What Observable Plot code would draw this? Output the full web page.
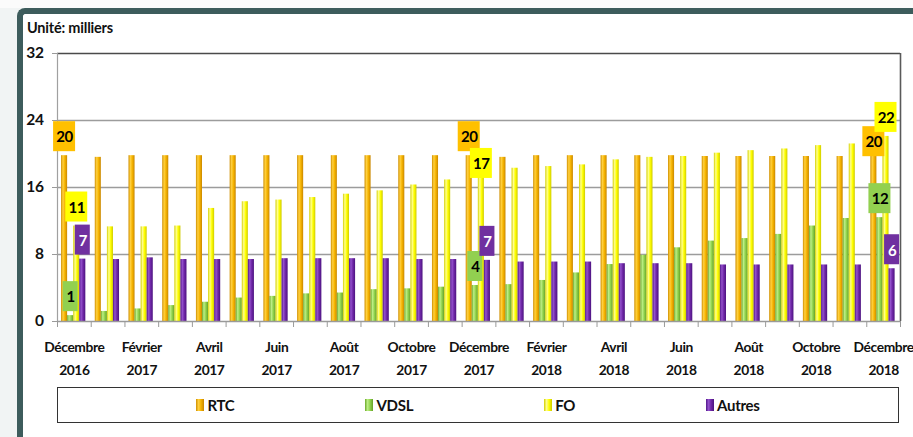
<!DOCTYPE html>
<html>
<head>
<meta charset="utf-8">
<script src="https://cdn.jsdelivr.net/npm/d3@7"></script>
<script src="https://cdn.jsdelivr.net/npm/@observablehq/plot@0.6"></script>
<style>
  html, body { margin: 0; padding: 0; }
  body {
    width: 913px; height: 437px; overflow: hidden; position: relative;
    background: linear-gradient(to bottom, #fbfbfb 0px, #fbfbfb 8px, #f1f4f4 8px);
    font-family: "Lato", "Roboto", sans-serif;
  }
  #frame {
    position: absolute; left: 17px; top: 8px; right: -30px; bottom: -30px;
    background: #ffffff;
    border-left: 6px solid #3d5c5c; border-top: 6px solid #3d5c5c;
    border-top-left-radius: 8px;
  }
  #title {
    position: absolute; left: 27px; top: 19px;
    font-weight: bold; font-size: 14.5px; line-height: 18px; color: #111;
    letter-spacing: -0.2px;
  }
  #chart { position: absolute; left: 0; top: 0; }
  #chart svg text { letter-spacing: -0.4px; }
  #legend {
    position: absolute; left: 57px; top: 387px; width: 842px; height: 36px;
    box-sizing: border-box; border: 1.6px solid #333; background: #fff;
    display: flex; align-items: center; justify-content: center; gap: 131px;
    font-weight: bold; font-size: 15px; color: #111; letter-spacing: -0.3px;
  }
  .item { display: flex; align-items: center; gap: 3px; }
  .sw { width: 8px; height: 12px; display: inline-block; }
</style>
</head>
<body>
<div id="frame"></div>
<div id="title">Unité: milliers</div>
<div id="chart"></div>
<div id="legend"></div>
<script>
// ---- Data ----
const months = [
  "Décembre 2016", "Janvier 2017", "Février 2017", "Mars 2017", "Avril 2017", "Mai 2017",
  "Juin 2017", "Juillet 2017", "Août 2017", "Septembre 2017", "Octobre 2017", "Novembre 2017",
  "Décembre 2017", "Janvier 2018", "Février 2018", "Mars 2018", "Avril 2018", "Mai 2018",
  "Juin 2018", "Juillet 2018", "Août 2018", "Septembre 2018", "Octobre 2018", "Novembre 2018",
  "Décembre 2018"
];
const seriesNames = ["RTC", "VDSL", "FO", "Autres"];
const rtc    = [19.8, 19.6, 19.8, 19.8, 19.8, 19.8, 19.8, 19.8, 19.8, 19.8, 19.8, 19.8, 19.8,
                19.6, 19.8, 19.8, 19.8, 19.8, 19.8, 19.7, 19.7, 19.7, 19.7, 19.7, 19.8];
const vdsl   = [0.7, 1.2, 1.5, 1.9, 2.3, 2.8, 3.0, 3.3, 3.4, 3.8, 3.9, 4.1, 4.3,
                4.4, 4.9, 5.8, 6.8, 7.9, 8.8, 9.6, 9.9, 10.4, 11.4, 12.3, 12.4];
const fo     = [11.4, 11.3, 11.3, 11.4, 13.5, 14.3, 14.5, 14.8, 15.2, 15.6, 16.3, 16.9, 17.2,
                18.3, 18.5, 18.7, 19.3, 19.6, 19.7, 20.1, 20.4, 20.6, 21.0, 21.2, 22.1];
const autres = [7.45, 7.4, 7.6, 7.4, 7.4, 7.4, 7.5, 7.5, 7.5, 7.5, 7.4, 7.4, 7.3,
                7.1, 7.1, 7.1, 6.9, 6.9, 6.9, 6.75, 6.75, 6.75, 6.75, 6.75, 6.3];
const labeledMonths = ["Décembre 2016", "Décembre 2017", "Décembre 2018"];
const yTicks = [0, 8, 16, 24, 32];
const tickLabelMonths = months.filter((_, i) => i % 2 === 0);

// ---- Styles ----
const FONT = '"Lato", "Roboto", sans-serif';
const gradStops = {
  RTC:    ["#cf8f00", "#ffd040", "#f6b400", "#c98700"],
  VDSL:   ["#6aa82a", "#bdee86", "#92d44e", "#66a228"],
  FO:     ["#d4d000", "#ffff90", "#ffff00", "#cfcb00"],
  Autres: ["#52168a", "#9352cc", "#7028a8", "#4c1380"]
};
const boxFill = { RTC: "#ffc000", VDSL: "#92d050", FO: "#ffff00", Autres: "#7030a0" };
const boxText = { RTC: "#000", VDSL: "#000", FO: "#000", Autres: "#fff" };
const nudge = { "Décembre 2017|FO": 5, "Décembre 2018|RTC": 5 }; // px, label placement tweaks

// gradient defs
const defsSvg = d3.select("body").append("svg")
  .attr("width", 0).attr("height", 0).style("position", "absolute");
const defs = defsSvg.append("defs");
seriesNames.forEach((s, j) => {
  const g = defs.append("linearGradient").attr("id", "grad" + j)
    .attr("x1", 0).attr("x2", 1).attr("y1", 0).attr("y2", 0);
  const offs = [0, 0.32, 0.62, 1];
  gradStops[s].forEach((c, k) => g.append("stop").attr("offset", offs[k]).attr("stop-color", c));
});

const valuesBySeries = { RTC: rtc, VDSL: vdsl, FO: fo, Autres: autres };
const rows = months.flatMap((m, i) =>
  seriesNames.map((s, j) => ({ month: m, i, series: s, j, value: valuesBySeries[s][i] })));

const BW = 0.18, OFF = 0.12;
const bx1 = d => d.i + OFF + d.j * BW;
const bx2 = d => d.i + OFF + (d.j + 1) * BW;
const bxc = d => d.i + OFF + (d.j + 0.5) * BW;

const barMarks = seriesNames.map((s, j) =>
  Plot.rectY(rows.filter(d => d.series === s), {
    x1: bx1, x2: bx2, y: "value", fill: `url(#grad${j})`
  }));

const labelRows = rows.filter(d => labeledMonths.includes(d.month));
const labelMarks = labelRows.flatMap(d => {
  const txt = String(Math.round(d.value));
  const w = txt.length > 1 ? 22 : 15;
  const c = -19 + (nudge[d.month + "|" + d.series] || 0);
  return [
    Plot.rect([d], {
      x1: bxc, x2: bxc, y1: "value", y2: "value",
      insetLeft: -w / 2, insetRight: -w / 2,
      insetTop: c - 15, insetBottom: -c - 15,
      fill: boxFill[d.series]
    }),
    Plot.text([d], {
      x: bxc, y: "value", dy: c + 1, text: () => txt,
      fill: boxText[d.series], fontSize: 15, fontWeight: "bold"
    })
  ];
});

const N = months.length;
const plot = Plot.plot({
  width: 913, height: 385,
  marginLeft: 57, marginRight: 13, marginTop: 53, marginBottom: 64,
  style: { background: "transparent", fontFamily: FONT, overflow: "visible", color: "#111" },
  x: { domain: [0, N], axis: null },
  y: { domain: [0, 32], axis: null },
  marks: [
    Plot.gridY(yTicks.filter(v => v > 0 && v < 32), { stroke: "#9c9c9c", strokeOpacity: 1, strokeWidth: 1.4 }),
    Plot.ruleY([32], { stroke: "#4a4a4a", strokeWidth: 1.6 }),
    Plot.ruleX([N], { y1: 0, y2: 32, stroke: "#5a5a5a", strokeWidth: 1.6 }),
    Plot.ruleX([0], { y1: 0, y2: 32, stroke: "#a0a0a0", strokeWidth: 1.2 }),
    ...barMarks,
    Plot.ruleY([0], { stroke: "#9a9a9a", strokeWidth: 1.4 }),
    Plot.axisY(yTicks, {
      label: null, tickSize: 5, tickPadding: 9, stroke: "#9a9a9a",
      fontSize: 15.5, fontWeight: "bold", fill: "#111"
    }),
    Plot.axisX(d3.range(N + 1), {
      label: null, tickSize: 6, tickFormat: () => "", stroke: "#9a9a9a"
    }),
    Plot.axisX(tickLabelMonths.map(m => months.indexOf(m) + 0.5), {
      label: null, tickSize: 0, tickPadding: 14, lineHeight: 1.67,
      tickFormat: d => months[Math.floor(d)].replace(" ", "\n"),
      fontSize: 13.8, fontWeight: "bold", fill: "#111"
    }),
    ...labelMarks
  ]
});
document.getElementById("chart").appendChild(plot);

// ---- Legend ----
const legend = d3.select("#legend");
seriesNames.forEach(s => {
  const st = gradStops[s];
  const it = legend.append("div").attr("class", "item");
  it.append("span").attr("class", "sw")
    .style("background", `linear-gradient(to right, ${st[0]}, ${st[1]} 32%, ${st[2]} 62%, ${st[3]})`);
  it.append("span").text(s);
});
</script>
</body>
</html>
